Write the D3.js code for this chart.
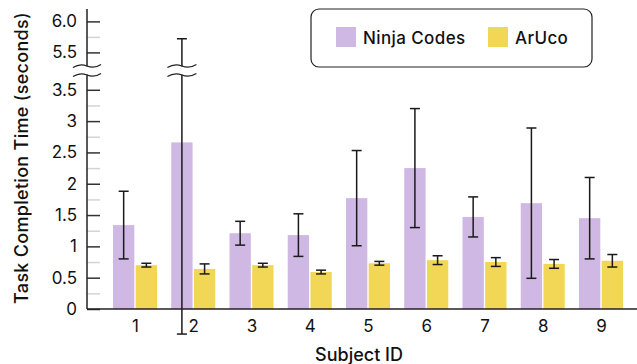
<!DOCTYPE html>
<html>
<head>
<meta charset="utf-8">
<script src="https://cdn.jsdelivr.net/npm/d3@7"></script>
<style>
  body { margin: 0; background: #fff; }
  text { font-family: Inter, "Noto Sans", sans-serif; fill: #111; }
</style>
</head>
<body>
<div id="chart"></div>
<script>
// datos
const subjects = ["1", "2", "3", "4", "5", "6", "7", "8", "9"]
const ninjaMean = [1.34, 2.66, 1.21, 1.18, 1.77, 2.25, 1.47, 1.69, 1.45]
const ninjaSd   = [0.54, 3.06, 0.19, 0.34, 0.76, 0.95, 0.32, 1.20, 0.65]
const arucoMean = [0.70, 0.64, 0.70, 0.59, 0.73, 0.78, 0.75, 0.72, 0.77]
const arucoSd   = [0.03, 0.08, 0.03, 0.03, 0.03, 0.07, 0.07, 0.07, 0.10]
const seriesNames = ["Ninja Codes", "ArUco"]
const colors = ["#d0b8e4", "#f2d756"]

const lowTicks  = [0, 0.5, 1, 1.5, 2, 2.5, 3, 3.5]
const highTicks = [5.5, 6.0]
const lowMinor  = [0.25, 0.75, 1.25, 1.75, 2.25, 2.75, 3.25]
const highMinor = [5.75]

const width = 637, height = 364
const axisX = 87, baseY = 309

const svg = d3.select("#chart").append("svg")
  .attr("width", width)
  .attr("height", height)

// escalas (eje Y con corte)
const yLow  = d3.scaleLinear().domain([0, 3.8]).range([baseY, 71])
const yHigh = d3.scaleLinear().domain([5.2, 6.2]).range([71, 9])
const y = v => v > 4.5 ? yHigh(v) : yLow(v)

const x = d3.scalePoint().domain(subjects).range([135, 601])
const xSub = d3.scaleBand().domain(seriesNames).range([-22, 22]).paddingInner(0.06)

const rows = subjects.map((s, i) => ({
  id: s,
  values: [
    {name: seriesNames[0], mean: ninjaMean[i], sd: ninjaSd[i]},
    {name: seriesNames[1], mean: arucoMean[i], sd: arucoSd[i]}
  ]
}))

// barras
const groups = svg.append("g").selectAll("g")
  .data(rows)
  .join("g")
    .attr("transform", d => `translate(${x(d.id)},0)`)

groups.selectAll("rect")
  .data(d => d.values)
  .join("rect")
    .attr("x", d => xSub(d.name))
    .attr("width", xSub.bandwidth())
    .attr("y", d => y(d.mean))
    .attr("height", d => baseY - y(d.mean))
    .attr("fill", (d, i) => colors[i])

// barras de error
const err = groups.selectAll("g.err")
  .data(d => d.values)
  .join("g")
    .attr("class", "err")
    .attr("stroke", "#1a1a1a")
    .attr("stroke-width", 1.5)
const cx = d => xSub(d.name) + xSub.bandwidth() / 2
err.append("line")
  .attr("x1", cx).attr("x2", cx)
  .attr("y1", d => y(d.mean - d.sd))
  .attr("y2", d => y(d.mean + d.sd))
err.append("line")
  .attr("x1", d => cx(d) - 5).attr("x2", d => cx(d) + 5)
  .attr("y1", d => y(d.mean - d.sd)).attr("y2", d => y(d.mean - d.sd))
err.append("line")
  .attr("x1", d => cx(d) - 5).attr("x2", d => cx(d) + 5)
  .attr("y1", d => y(d.mean + d.sd)).attr("y2", d => y(d.mean + d.sd))

// ejes Y (ticks hacia dentro)
const minorAxis = (scale, vals) => svg.append("g")
  .attr("transform", `translate(${axisX},0)`)
  .call(d3.axisLeft(scale).tickValues(vals).tickSizeInner(-13).tickFormat(""))
  .call(g => g.select(".domain").remove())
  .call(g => g.selectAll("line").attr("stroke", "#d4d4d4").attr("stroke-width", 1.5))
minorAxis(yLow, lowMinor)
minorAxis(yHigh, highMinor)

const styleAxis = g => {
  g.select(".domain").remove()
  g.selectAll("line").attr("stroke", "#333").attr("stroke-width", 1.5)
  g.selectAll("text").attr("font-size", 17).attr("fill", "#111")
}
svg.append("g")
  .attr("transform", `translate(${axisX},0)`)
  .call(d3.axisLeft(yLow).tickValues(lowTicks).tickSizeInner(-13).tickPadding(10)
    .tickFormat(d => String(d)))
  .call(styleAxis)
svg.append("g")
  .attr("transform", `translate(${axisX},0)`)
  .call(d3.axisLeft(yHigh).tickValues(highTicks).tickSizeInner(-13).tickPadding(10)
    .tickFormat(d3.format(".1f")))
  .call(styleAxis)

svg.append("line")
  .attr("x1", axisX).attr("x2", axisX)
  .attr("y1", 9).attr("y2", baseY)
  .attr("stroke", "#222").attr("stroke-width", 1.5)

// eje X
svg.append("g")
  .attr("transform", `translate(0,${baseY})`)
  .call(d3.axisBottom(x).tickSize(0).tickPadding(11))
  .call(g => g.select(".domain").remove())
  .call(g => g.selectAll("text").attr("font-size", 17).attr("fill", "#111"))
svg.append("line")
  .attr("x1", axisX).attr("x2", width)
  .attr("y1", baseY).attr("y2", baseY)
  .attr("stroke", "#222").attr("stroke-width", 1.5)

// marcas de corte
const breakY = 70.5
const wave = (x0, x1, yc) => {
  const w = x1 - x0
  return `M${x0},${yc + 1.5} Q${x0 + w / 4},${yc - 3} ${x0 + w / 2},${yc} T${x1},${yc - 1.5}`
}
const bx = x("2") + cx(rows[1].values[0])
const breaks = [[73, 101], [bx - 14.5, bx + 14.5]]
breaks.forEach(([a, b]) => {
  svg.append("rect")
    .attr("x", a).attr("width", b - a)
    .attr("y", breakY - 4).attr("height", 8)
    .attr("fill", "#fff")
  ;[breakY - 4.5, breakY + 4.5].forEach(yc => {
    svg.append("path")
      .attr("d", wave(a, b, yc))
      .attr("fill", "none")
      .attr("stroke", "#222")
      .attr("stroke-width", 1.3)
  })
})

// títulos
svg.append("text")
  .attr("transform", "rotate(-90)")
  .attr("x", -158).attr("y", 28)
  .attr("text-anchor", "middle")
  .attr("font-size", 18)
  .attr("font-weight", 500)
  .attr("letter-spacing", 0.3)
  .text("Task Completion Time (seconds)")
svg.append("text")
  .attr("x", 359).attr("y", 361)
  .attr("text-anchor", "middle")
  .attr("font-size", 18)
  .attr("font-weight", 500)
  .text("Subject ID")

// leyenda
const legend = svg.append("g")
legend.append("rect")
  .attr("x", 311).attr("y", 9)
  .attr("width", 281).attr("height", 58)
  .attr("rx", 8)
  .attr("fill", "#fff")
  .attr("stroke", "#222")
  .attr("stroke-width", 1.2)
const legX = [336, 488]
seriesNames.forEach((name, i) => {
  legend.append("rect")
    .attr("x", legX[i]).attr("y", 27)
    .attr("width", 20).attr("height", 20)
    .attr("fill", colors[i])
  legend.append("text")
    .attr("x", legX[i] + 27).attr("y", 43.5)
    .attr("font-size", 17)
    .attr("font-weight", 500)
    .attr("letter-spacing", 0.4)
    .text(name)
})
</script>
</body>
</html>
